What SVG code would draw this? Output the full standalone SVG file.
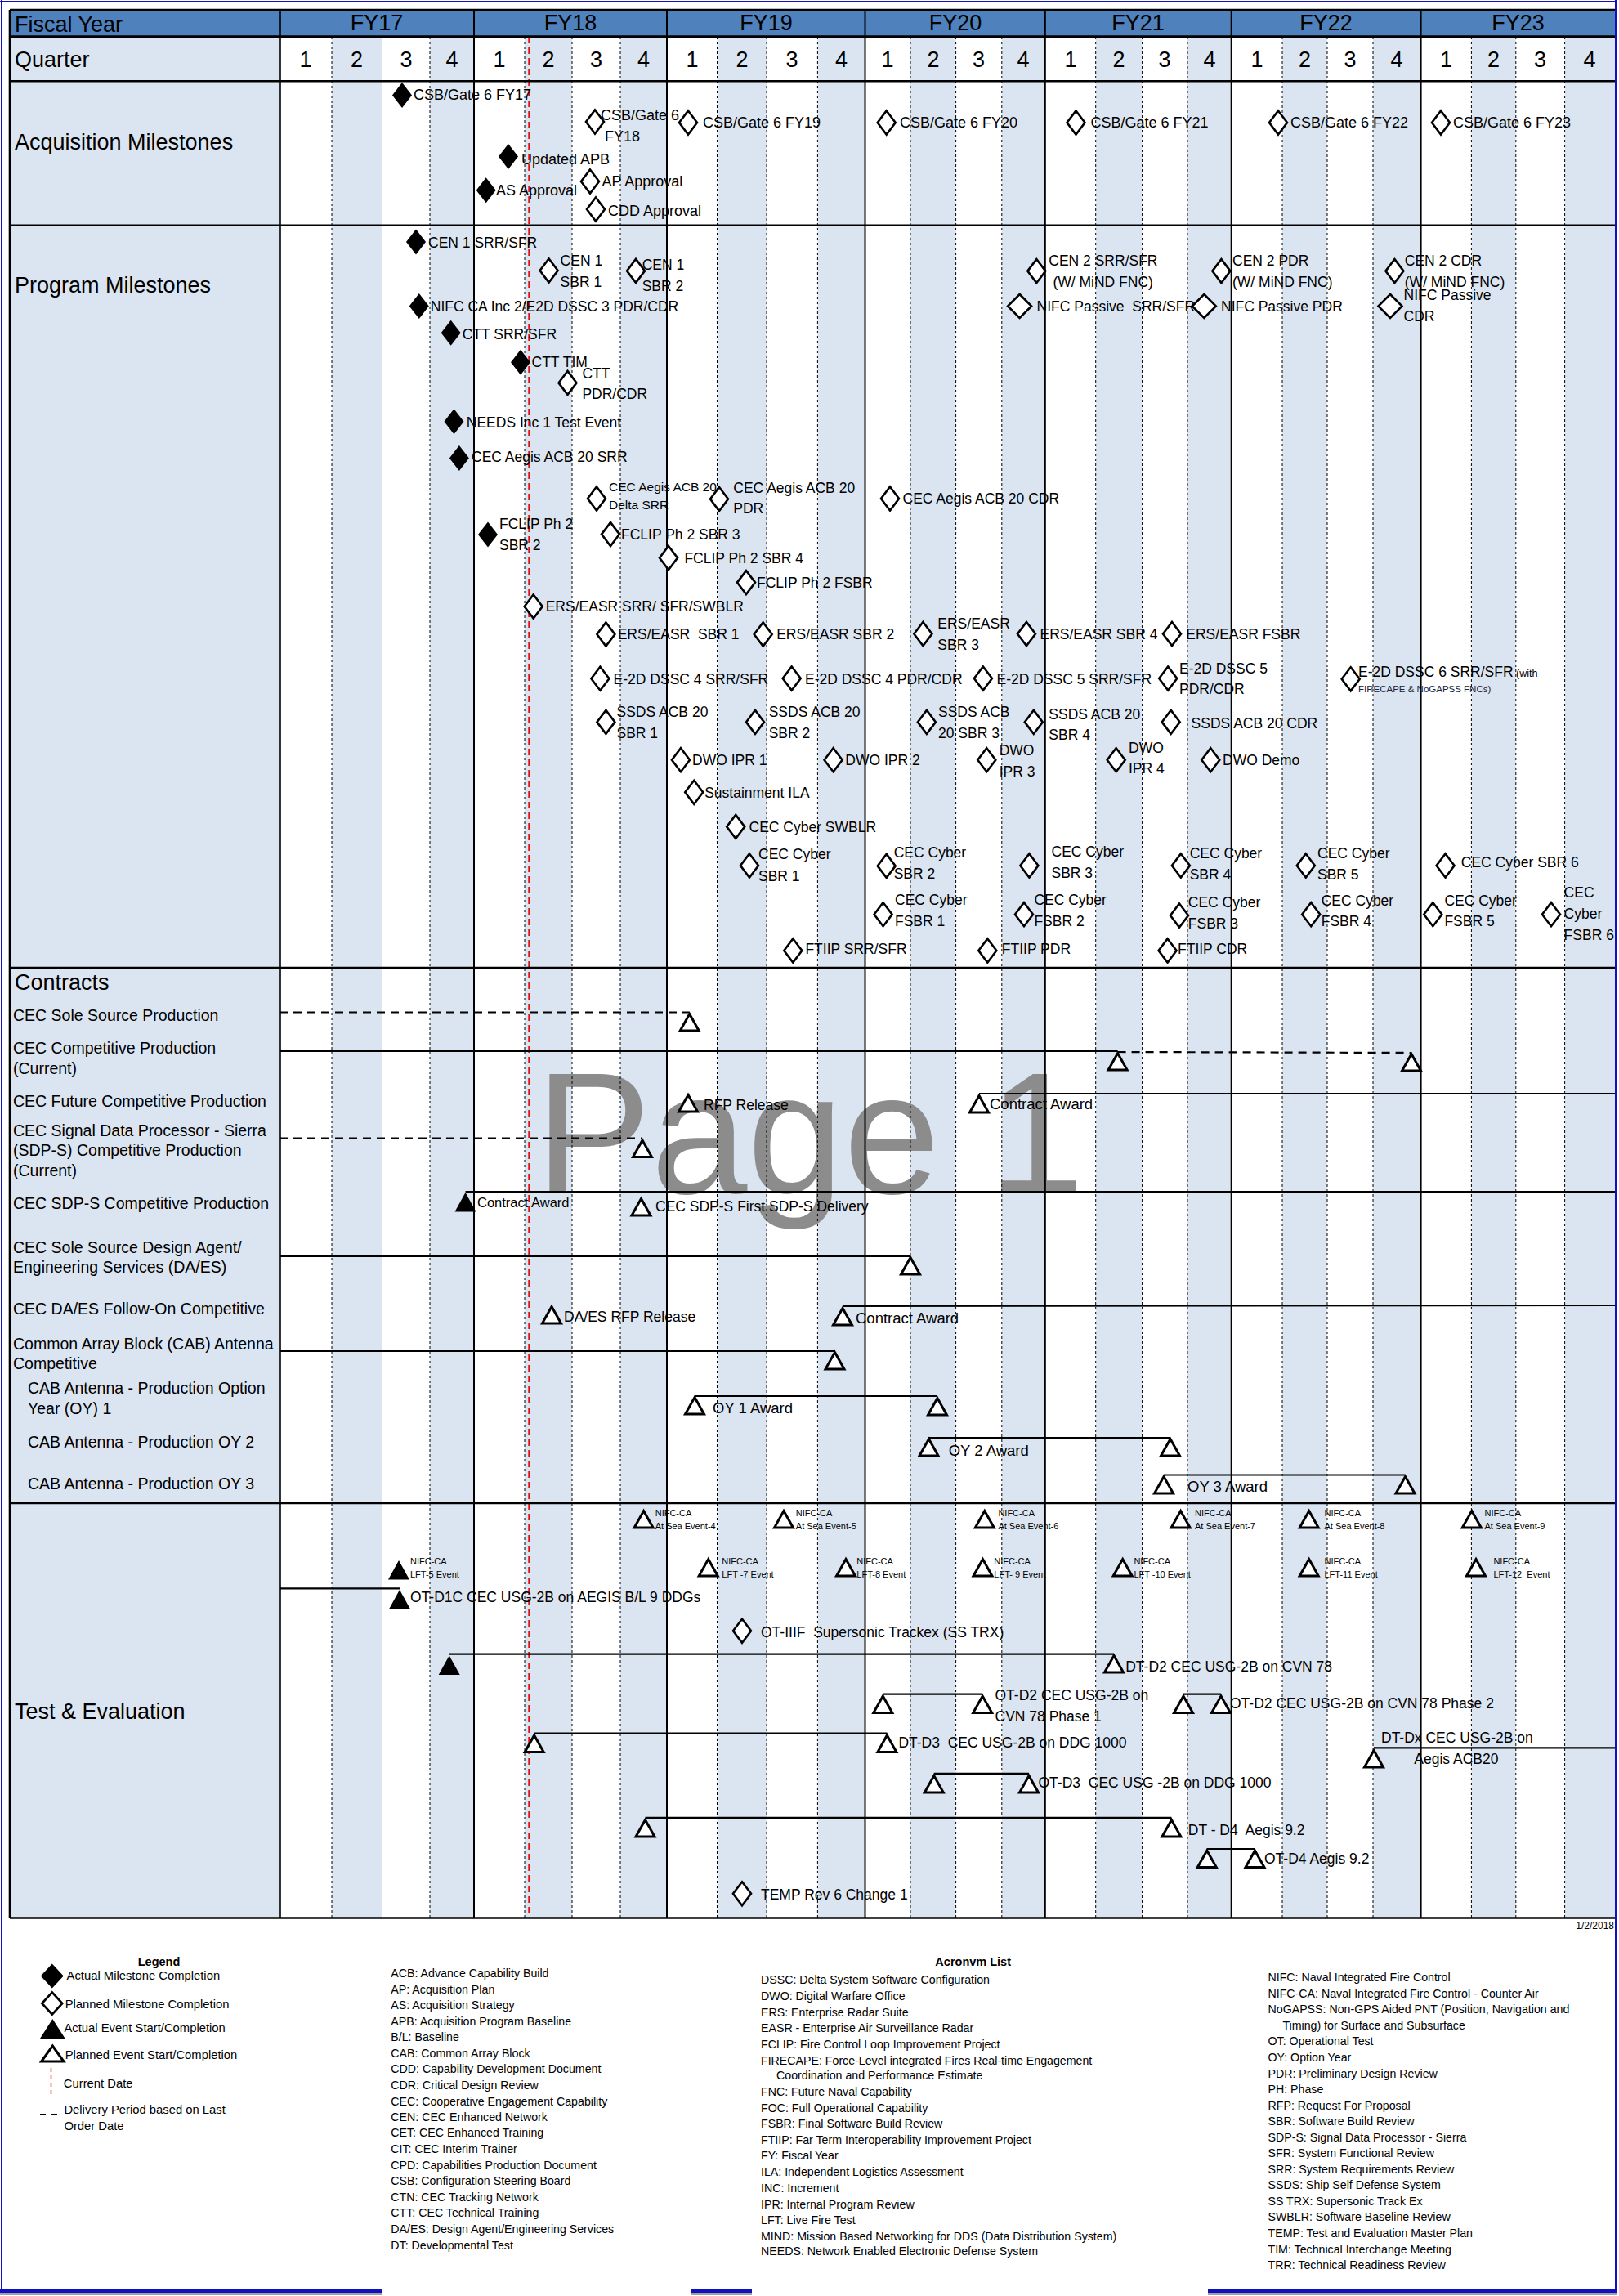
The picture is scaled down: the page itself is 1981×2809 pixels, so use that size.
<svg xmlns="http://www.w3.org/2000/svg" xmlns:xlink="http://www.w3.org/1999/xlink" width="1981" height="2809" viewBox="0 0 1981 2809">
<style>
text{font-family:"Liberation Sans",Arial,sans-serif;fill:#000}
.h{font-size:27px}
.a{font-size:18px}
.m{font-size:17.5px}
.ms{font-size:15.5px}
.c{font-size:19.5px}
.t{font-size:17.5px}
.s{font-size:11px}
.g{font-size:14.2px}
.lg{font-size:14.8px}
.b{font-size:14.5px;font-weight:bold}
.q{font-size:27px;text-anchor:middle}
.bar{stroke:#000;stroke-width:2.2;fill:none}
.dsh{stroke:#000;stroke-width:2.2;fill:none;stroke-dasharray:10,7}
.ql{stroke:#000;stroke-width:1;stroke-dasharray:3,3}
.fy{stroke:#000;stroke-width:2}
.sec{stroke:#000;stroke-width:2.6}
.sh{fill:#dbe5f1}
</style>
<defs>
<path id="mA" d="M0,-15.5 L12,0 L0,15.5 L-12,0 Z" fill="#000"/>
<path id="mP" d="M0,-14.5 L11,0 L0,14.5 L-11,0 Z" fill="#fff" stroke="#000" stroke-width="2.6"/>
<path id="mW" d="M0,-14.5 L14.5,0 L0,14.5 L-14.5,0 Z" fill="#fff" stroke="#000" stroke-width="2.6"/>
<path id="tP" d="M0,1.5 L11.5,22 L-11.5,22 Z" fill="#fff" stroke="#000" stroke-width="3"/>
<path id="tA" d="M0,0 L13,23.5 L-13,23.5 Z" fill="#000"/>
</defs>
<rect width="1981" height="2809" fill="#fff"/>
<g id="grid">
<rect x="12" y="12" width="1964" height="33" fill="#4f81bd"/>
<rect x="12" y="45" width="330.5" height="2301.5" fill="#dbe5f1"/>
<rect class="sh" x="406" y="45" width="61.5" height="2301.5"/>
<rect class="sh" x="526" y="45" width="54" height="2301.5"/>
<rect class="sh" x="642" y="45" width="58" height="2301.5"/>
<rect class="sh" x="759" y="45" width="57" height="2301.5"/>
<rect class="sh" x="877.5" y="45" width="60.5" height="2301.5"/>
<rect class="sh" x="1000.4" y="45" width="58.1" height="2301.5"/>
<rect class="sh" x="1114" y="45" width="55.6" height="2301.5"/>
<rect class="sh" x="1225.8" y="45" width="53" height="2301.5"/>
<rect class="sh" x="1340.7" y="45" width="56.9" height="2301.5"/>
<rect class="sh" x="1453" y="45" width="53.7" height="2301.5"/>
<rect class="sh" x="1569" y="45" width="55" height="2301.5"/>
<rect class="sh" x="1680" y="45" width="58.6" height="2301.5"/>
<rect class="sh" x="1800.4" y="45" width="54.4" height="2301.5"/>
<rect class="sh" x="1914.6" y="45" width="61.4" height="2301.5"/>
<text x="655" y="1460" style="font-size:212px;fill:#8c8c8c">Page 1</text>
<g class="ql">
<line x1="406" y1="45" x2="406" y2="2346"/><line x1="467.5" y1="45" x2="467.5" y2="2346"/><line x1="526" y1="45" x2="526" y2="2346"/>
<line x1="642" y1="45" x2="642" y2="2346"/><line x1="700" y1="45" x2="700" y2="2346"/><line x1="759" y1="45" x2="759" y2="2346"/>
<line x1="877.5" y1="45" x2="877.5" y2="2346"/><line x1="938" y1="45" x2="938" y2="2346"/><line x1="1000.4" y1="45" x2="1000.4" y2="2346"/>
<line x1="1114" y1="45" x2="1114" y2="2346"/><line x1="1169.6" y1="45" x2="1169.6" y2="2346"/><line x1="1225.8" y1="45" x2="1225.8" y2="2346"/>
<line x1="1340.7" y1="45" x2="1340.7" y2="2346"/><line x1="1397.6" y1="45" x2="1397.6" y2="2346"/><line x1="1453" y1="45" x2="1453" y2="2346"/>
<line x1="1569" y1="45" x2="1569" y2="2346"/><line x1="1624" y1="45" x2="1624" y2="2346"/><line x1="1680" y1="45" x2="1680" y2="2346"/>
<line x1="1800.4" y1="45" x2="1800.4" y2="2346"/><line x1="1854.8" y1="45" x2="1854.8" y2="2346"/><line x1="1914.6" y1="45" x2="1914.6" y2="2346"/>
</g>
<line x1="647.3" y1="45" x2="647.3" y2="2346" stroke="#e01010" stroke-width="2" stroke-dasharray="8,5"/>
<g class="fy">
<line x1="580" y1="12" x2="580" y2="2346"/><line x1="816" y1="12" x2="816" y2="2346"/><line x1="1058.5" y1="12" x2="1058.5" y2="2346"/>
<line x1="1278.8" y1="12" x2="1278.8" y2="2346"/><line x1="1506.7" y1="12" x2="1506.7" y2="2346"/><line x1="1738.6" y1="12" x2="1738.6" y2="2346"/>
</g>
<g class="sec">
<line x1="342.5" y1="12" x2="342.5" y2="2346.5"/>
<line x1="12" y1="12" x2="12" y2="2346.5"/>
<line x1="12" y1="12" x2="1976" y2="12"/>
<line x1="12" y1="44.6" x2="1976" y2="44.6"/>
<line x1="12" y1="99.3" x2="1976" y2="99.3"/>
<line x1="12" y1="275.7" x2="1976" y2="275.7"/>
<line x1="12" y1="1184" x2="1976" y2="1184"/>
<line x1="12" y1="1839" x2="1976" y2="1839"/>
<line x1="12" y1="2346.5" x2="1976" y2="2346.5"/>
</g>
</g>
<g id="header">
<text class="h" x="18" y="39">Fiscal Year</text>
<text class="q" x="461" y="37">FY17</text><text class="q" x="698" y="37">FY18</text><text class="q" x="937.5" y="37">FY19</text>
<text class="q" x="1169" y="37">FY20</text><text class="q" x="1392.5" y="37">FY21</text><text class="q" x="1622.5" y="37">FY22</text><text class="q" x="1857.5" y="37">FY23</text>
<text class="h" x="18" y="82">Quarter</text>
<text class="q" x="374" y="82">1</text><text class="q" x="436.5" y="82">2</text><text class="q" x="497" y="82">3</text><text class="q" x="553" y="82">4</text>
<text class="q" x="611" y="82">1</text><text class="q" x="671" y="82">2</text><text class="q" x="729.5" y="82">3</text><text class="q" x="787.5" y="82">4</text>
<text class="q" x="847" y="82">1</text><text class="q" x="908" y="82">2</text><text class="q" x="969" y="82">3</text><text class="q" x="1029.5" y="82">4</text>
<text class="q" x="1086" y="82">1</text><text class="q" x="1142" y="82">2</text><text class="q" x="1197.5" y="82">3</text><text class="q" x="1252" y="82">4</text>
<text class="q" x="1310" y="82">1</text><text class="q" x="1369" y="82">2</text><text class="q" x="1425" y="82">3</text><text class="q" x="1480" y="82">4</text>
<text class="q" x="1538" y="82">1</text><text class="q" x="1596.5" y="82">2</text><text class="q" x="1652" y="82">3</text><text class="q" x="1709" y="82">4</text>
<text class="q" x="1769.5" y="82">1</text><text class="q" x="1827.5" y="82">2</text><text class="q" x="1884.5" y="82">3</text><text class="q" x="1945" y="82">4</text>
</g>
<g id="row-labels">
<text class="h" x="18" y="183">Acquisition Milestones</text>
<text class="h" x="18" y="358">Program Milestones</text>
<text class="h" x="18" y="1211">Contracts</text>
<text class="c" x="16" y="1249">CEC Sole Source Production</text>
<text class="c" x="16" y="1289">CEC Competitive Production</text>
<text class="c" x="16" y="1314">(Current)</text>
<text class="c" x="16" y="1354">CEC Future Competitive Production</text>
<text class="c" x="16" y="1389.5">CEC Signal Data Processor - Sierra</text>
<text class="c" x="16" y="1414">(SDP-S) Competitive Production</text>
<text class="c" x="16" y="1439">(Current)</text>
<text class="c" x="16" y="1479">CEC SDP-S Competitive Production</text>
<text class="c" x="16" y="1532.5">CEC Sole Source Design Agent/</text>
<text class="c" x="16" y="1557">Engineering Services (DA/ES)</text>
<text class="c" x="16" y="1608">CEC DA/ES Follow-On Competitive</text>
<text class="c" x="16" y="1650.5">Common Array Block (CAB) Antenna</text>
<text class="c" x="16" y="1675">Competitive</text>
<text class="c" x="34" y="1705">CAB Antenna - Production Option</text>
<text class="c" x="34" y="1730">Year (OY) 1</text>
<text class="c" x="34" y="1770.6">CAB Antenna - Production OY 2</text>
<text class="c" x="34" y="1822">CAB Antenna - Production OY 3</text>
<text class="h" x="18" y="2103">Test &amp; Evaluation</text>
</g>
<g id="connectors">
<line class="dsh" x1="342" y1="1238.5" x2="843.7" y2="1238.5"/>
<line class="bar" x1="342" y1="1286" x2="1367.6" y2="1286"/>
<line class="dsh" x1="1367.6" y1="1287" x2="1727" y2="1288"/>
<line class="bar" x1="1198" y1="1338" x2="1976" y2="1338"/>
<line class="dsh" x1="342" y1="1392.5" x2="786" y2="1392.5"/>
<line class="bar" x1="569.5" y1="1458" x2="1976" y2="1458"/>
<line class="bar" x1="342" y1="1537" x2="1114" y2="1537"/>
<line class="bar" x1="1031" y1="1598" x2="1976" y2="1597"/>
<line class="bar" x1="342" y1="1653" x2="1021.5" y2="1653"/>
<line class="bar" x1="850" y1="1708" x2="1147" y2="1708"/>
<line class="bar" x1="1136.5" y1="1759" x2="1432" y2="1759"/>
<line class="bar" x1="1424" y1="1804.5" x2="1719.5" y2="1804.5"/>
<line class="bar" x1="342" y1="1943.3" x2="489" y2="1943.3"/>
<line class="bar" x1="549.7" y1="2023.7" x2="1363" y2="2023.7"/>
<line class="bar" x1="1080.3" y1="2072.7" x2="1202.2" y2="2072.7"/>
<line class="bar" x1="1448" y1="2072.7" x2="1494" y2="2072.7"/>
<line class="bar" x1="653.7" y1="2120.7" x2="1085.4" y2="2120.7"/>
<line class="bar" x1="1681" y1="2138.3" x2="1976" y2="2138.3"/>
<line class="bar" x1="1142.8" y1="2169.8" x2="1259" y2="2169.8"/>
<line class="bar" x1="789.5" y1="2223.8" x2="1433.4" y2="2223.8"/>
<line class="bar" x1="1476.8" y1="2262" x2="1535.5" y2="2262"/>
</g>
<g id="acquisition">
<g id="a1"><use href="#mA" x="492" y="116.5"/><text class="a" x="506" y="121.5">CSB/Gate 6 FY17</text></g>
<g id="a2"><use href="#mP" x="728" y="149"/><text class="a" x="735" y="147">CSB/Gate 6</text><text class="a" x="740" y="173">FY18</text></g>
<g id="a3"><use href="#mP" x="842" y="150"/><text class="a" x="860" y="156">CSB/Gate 6 FY19</text></g>
<g id="a4"><use href="#mP" x="1084.7" y="150"/><text class="a" x="1101" y="156">CSB/Gate 6 FY20</text></g>
<g id="a5"><use href="#mP" x="1316.5" y="150"/><text class="a" x="1334.4" y="156">CSB/Gate 6 FY21</text></g>
<g id="a6"><use href="#mP" x="1564" y="150"/><text class="a" x="1579" y="156">CSB/Gate 6 FY22</text></g>
<g id="a7"><use href="#mP" x="1763" y="150"/><text class="a" x="1778" y="156">CSB/Gate 6 FY23</text></g>
<g id="a8"><use href="#mA" x="622" y="191.4"/><text class="a" x="638" y="200.7">Updated APB</text></g>
<g id="a9"><use href="#mA" x="594.7" y="232.7"/><text class="a" x="607" y="238.6">AS Approval</text></g>
<g id="a10"><use href="#mP" x="722" y="222"/><text class="a" x="736.6" y="227.5">AP Approval</text></g>
<g id="a11"><use href="#mP" x="729" y="256"/><text class="a" x="744" y="263.5">CDD Approval</text></g>
</g>
<g id="program">
<g id="p1"><use href="#mA" x="509" y="296"/><text class="m" x="524" y="303">CEN 1 SRR/SFR</text></g>
<g id="p2"><use href="#mP" x="671.6" y="331"/><text class="m" x="685.6" y="325">CEN 1</text><text class="m" x="685.6" y="350.7">SBR 1</text></g>
<g id="p3"><use href="#mP" x="778" y="331.4"/><text class="m" x="785.7" y="330">CEN 1</text><text class="m" x="785.7" y="356.4">SBR 2</text></g>
<g id="p4"><use href="#mA" x="512.8" y="374.5"/><text class="m" x="526.8" y="381.4">NIFC CA Inc 2/E2D DSSC 3 PDR/CDR</text></g>
<g id="p5"><use href="#mA" x="551.7" y="407.3"/><text class="m" x="565.7" y="415">CTT SRR/SFR</text></g>
<g id="p6"><use href="#mA" x="637" y="443.2"/><text class="m" x="650.5" y="449.3">CTT TIM</text></g>
<g id="p7"><use href="#mP" x="694.5" y="468.4"/><text class="m" x="712.4" y="462.5">CTT</text><text class="m" x="712.4" y="488.2">PDR/CDR</text></g>
<g id="p8"><use href="#mA" x="555.5" y="515.7"/><text class="m" x="570.8" y="522.5">NEEDS Inc 1 Test Event</text></g>
<g id="p9"><use href="#mA" x="561.9" y="560.6"/><text class="m" x="577" y="565.3">CEC Aegis ACB 20 SRR</text></g>
<g id="p10"><use href="#mP" x="730" y="610"/><text class="ms" x="745" y="601">CEC Aegis ACB 20</text><text class="ms" x="745" y="623.3">Delta SRR</text></g>
<g id="p11"><use href="#mP" x="880" y="610.5"/><text class="m" x="897.3" y="603">CEC Aegis ACB 20</text><text class="m" x="897.3" y="628.4">PDR</text></g>
<g id="p12"><use href="#mP" x="1089" y="610"/><text class="m" x="1104.5" y="615.8">CEC Aegis ACB 20 CDR</text></g>
<g id="p13"><use href="#mA" x="597" y="654"/><text class="m" x="611" y="647.3">FCLIP Ph 2</text><text class="m" x="611" y="672.6">SBR 2</text></g>
<g id="p14"><use href="#mP" x="747" y="653.6"/><text class="m" x="760" y="660">FCLIP Ph 2 SBR 3</text></g>
<g id="p15"><use href="#mP" x="818" y="682.5"/><text class="m" x="837.4" y="689.4">FCLIP Ph 2 SBR 4</text></g>
<g id="p16"><use href="#mP" x="913" y="712.6"/><text class="m" x="926" y="718.9">FCLIP Ph 2 FSBR</text></g>
<g id="p17"><use href="#mP" x="652.7" y="742"/><text class="m" x="667.7" y="747.5">ERS/EASR SRR/ SFR/SWBLR</text></g>
<g id="p18"><use href="#mP" x="741.4" y="776"/><text class="m" x="755.7" y="782" xml:space="preserve">ERS/EASR  SBR 1</text></g>
<g id="p19"><use href="#mP" x="933.7" y="776"/><text class="m" x="950.2" y="782">ERS/EASR SBR 2</text></g>
<g id="p20"><use href="#mP" x="1129.4" y="775.5"/><text class="m" x="1147.3" y="768.5">ERS/EASR</text><text class="m" x="1147.3" y="794.6">SBR 3</text></g>
<g id="p21"><use href="#mP" x="1256" y="775.5"/><text class="m" x="1272.5" y="782">ERS/EASR SBR 4</text></g>
<g id="p22"><use href="#mP" x="1434" y="775.5"/><text class="m" x="1451.3" y="782">ERS/EASR FSBR</text></g>
<g id="p23"><use href="#mP" x="734.4" y="830.2"/><text class="m" x="750.6" y="836.7">E-2D DSSC 4 SRR/SFR</text></g>
<g id="p24"><use href="#mP" x="968.7" y="830"/><text class="m" x="985" y="836.7">E-2D DSSC 4 PDR/CDR</text></g>
<g id="p25"><use href="#mP" x="1202.9" y="830"/><text class="m" x="1219.5" y="836.7">E-2D DSSC 5 SRR/SFR</text></g>
<g id="p26"><use href="#mP" x="1429.2" y="830"/><text class="m" x="1443" y="824">E-2D DSSC 5</text><text class="m" x="1443" y="849.3">PDR/CDR</text></g>
<g id="p27"><use href="#mP" x="1652.7" y="830.8"/><text class="m" x="1662" y="827.5">E-2D DSSC 6 SRR/SFR<tspan style="font-size:12.5px"> (with</tspan></text><text x="1662" y="847" style="font-size:11.5px;fill:#15233d">FIRECAPE &amp; NoGAPSS FNCs)</text></g>
<g id="p28"><use href="#mP" x="741.4" y="883.4"/><text class="m" x="754.5" y="876.7">SSDS ACB 20</text><text class="m" x="754.5" y="902.8">SBR 1</text></g>
<g id="p29"><use href="#mP" x="924" y="883.4"/><text class="m" x="940.7" y="876.7">SSDS ACB 20</text><text class="m" x="940.7" y="902.8">SBR 2</text></g>
<g id="p30"><use href="#mP" x="1133.9" y="883.4"/><text class="m" x="1148" y="876.7">SSDS ACB</text><text class="m" x="1148" y="902.8">20 SBR 3</text></g>
<g id="p31"><use href="#mP" x="1264.8" y="883.4"/><text class="m" x="1283.3" y="880">SSDS ACB 20</text><text class="m" x="1283.3" y="905.3">SBR 4</text></g>
<g id="p32"><use href="#mP" x="1432.7" y="883.4"/><text class="m" x="1457.6" y="891.4">SSDS ACB 20 CDR</text></g>
<g id="p33"><use href="#mP" x="833" y="929.7"/><text class="m" x="847" y="935.6">DWO IPR 1</text></g>
<g id="p34"><use href="#mP" x="1019.6" y="929.7"/><text class="m" x="1034.3" y="935.6">DWO IPR 2</text></g>
<g id="p35"><use href="#mP" x="1207.3" y="929.7"/><text class="m" x="1222.7" y="923.8">DWO</text><text class="m" x="1222.7" y="950.4">IPR 3</text></g>
<g id="p36"><use href="#mP" x="1365.7" y="929.7"/><text class="m" x="1381" y="921">DWO</text><text class="m" x="1381" y="946">IPR 4</text></g>
<g id="p37"><use href="#mP" x="1481.3" y="929.7"/><text class="m" x="1496" y="935.6">DWO Demo</text></g>
<g id="p38"><use href="#mP" x="849.2" y="969.3"/><text class="m" x="862.2" y="975.6">Sustainment ILA</text></g>
<g id="p39"><use href="#mP" x="900.2" y="1011.4"/><text class="m" x="916.5" y="1017.7">CEC Cyber SWBLR</text></g>
<g id="p40"><use href="#mP" x="917" y="1059"/><text class="m" x="928" y="1051.4">CEC Cyber</text><text class="m" x="928" y="1077.5">SBR 1</text></g>
<g id="p41"><use href="#mP" x="1084.7" y="1059.4"/><text class="m" x="1093.7" y="1049.3">CEC Cyber</text><text class="m" x="1093.7" y="1075.4">SBR 2</text></g>
<g id="p42"><use href="#mP" x="1259.4" y="1059"/><text class="m" x="1286.5" y="1048">CEC Cyber</text><text class="m" x="1286.5" y="1073.7">SBR 3</text></g>
<g id="p43"><use href="#mP" x="1444.9" y="1059"/><text class="m" x="1455.7" y="1050">CEC Cyber</text><text class="m" x="1455.7" y="1075.8">SBR 4</text></g>
<g id="p44"><use href="#mP" x="1597.8" y="1059"/><text class="m" x="1612" y="1050">CEC Cyber</text><text class="m" x="1612" y="1075.8">SBR 5</text></g>
<g id="p45"><use href="#mP" x="1768.6" y="1059"/><text class="m" x="1787.8" y="1060.6">CEC Cyber SBR 6</text></g>
<g id="p46"><use href="#mP" x="1080.6" y="1118.7"/><text class="m" x="1095" y="1107">CEC Cyber</text><text class="m" x="1095" y="1132.6">FSBR 1</text></g>
<g id="p47"><use href="#mP" x="1253" y="1118.7"/><text class="m" x="1265.4" y="1107">CEC Cyber</text><text class="m" x="1265.4" y="1132.6">FSBR 2</text></g>
<g id="p48"><use href="#mP" x="1443" y="1120"/><text class="m" x="1453.8" y="1110.3">CEC Cyber</text><text class="m" x="1453.8" y="1135.5">FSBR 3</text></g>
<g id="p49"><use href="#mP" x="1604.2" y="1118.7"/><text class="m" x="1616.7" y="1108">CEC Cyber</text><text class="m" x="1616.7" y="1133.4">FSBR 4</text></g>
<g id="p50"><use href="#mP" x="1753.3" y="1118.7"/><text class="m" x="1767.4" y="1108">CEC Cyber</text><text class="m" x="1767.4" y="1133.4">FSBR 5</text></g>
<g id="p51"><use href="#mP" x="1898" y="1118.7"/><text class="m" x="1913.6" y="1097.7">CEC</text><text class="m" x="1913.6" y="1123.7">Cyber</text><text class="m" x="1913.6" y="1150.3">FSBR 6</text></g>
<g id="p52"><use href="#mP" x="970.3" y="1163"/><text class="m" x="985.4" y="1167">FTIIP SRR/SFR</text></g>
<g id="p53"><use href="#mP" x="1208.3" y="1163"/><text class="m" x="1225.8" y="1167">FTIIP PDR</text></g>
<g id="p54"><use href="#mP" x="1428.6" y="1163"/><text class="m" x="1441" y="1167">FTIIP CDR</text></g>
<g id="p55"><use href="#mP" x="1268.3" y="331.6"/><text class="m" x="1283.3" y="325">CEN 2 SRR/SFR</text><text class="m" x="1288.4" y="350.7">(W/ MiND FNC)</text></g>
<g id="p56"><use href="#mP" x="1494.4" y="331.6"/><text class="m" x="1508" y="325">CEN 2 PDR</text><text class="m" x="1508" y="350.7">(W/ MiND FNC)</text></g>
<g id="p57"><use href="#mP" x="1706.4" y="331.6"/><text class="m" x="1718.8" y="325">CEN 2 CDR</text><text class="m" x="1718.8" y="350.7">(W/ MiND FNC)</text></g>
<g id="p58"><use href="#mW" x="1247.6" y="374.5"/><text class="m" x="1268.6" y="381.4" xml:space="preserve">NIFC Passive  SRR/SFR</text></g>
<g id="p59"><use href="#mW" x="1473.3" y="374.5"/><text class="m" x="1494" y="381.4">NIFC Passive PDR</text></g>
<g id="p60"><use href="#mW" x="1701" y="374.5"/><text class="m" x="1717.6" y="367">NIFC Passive</text><text class="m" x="1717.6" y="392.9">CDR</text></g>
</g>
<g id="contracts">
<g id="c1"><use href="#tP" x="843.7" y="1239"/></g>
<g id="c2"><use href="#tP" x="1367.6" y="1287"/><use href="#tP" x="1727" y="1288"/></g>
<g id="c3"><use href="#tP" x="842" y="1338"/><text class="m" x="861" y="1358">RFP Release</text><use href="#tP" x="1198" y="1339"/><text x="1211" y="1357" style="font-size:18.5px">Contract Award</text></g>
<g id="c4"><use href="#tP" x="786" y="1393.5"/></g>
<g id="c5"><use href="#tA" x="569.5" y="1459"/><text x="584" y="1477" style="font-size:16.5px">Contract Award</text><use href="#tP" x="784.5" y="1465"/><text class="m" x="802" y="1482">CEC SDP-S First SDP-S Delivery</text></g>
<g id="c6"><use href="#tP" x="1114" y="1537"/></g>
<g id="c7"><use href="#tP" x="675" y="1597"/><text class="m" x="690" y="1617">DA/ES RFP Release</text><use href="#tP" x="1031" y="1599"/><text x="1047" y="1619" style="font-size:18.5px">Contract Award</text></g>
<g id="c8"><use href="#tP" x="1021.5" y="1653"/></g>
<g id="c9"><use href="#tP" x="850" y="1708"/><use href="#tP" x="1147" y="1709"/><text x="872" y="1728.5" style="font-size:18.5px">OY 1 Award</text></g>
<g id="c10"><use href="#tP" x="1136.5" y="1759"/><use href="#tP" x="1432" y="1759"/><text x="1160.7" y="1780.6" style="font-size:18.5px">OY 2 Award</text></g>
<g id="c11"><use href="#tP" x="1424" y="1805"/><use href="#tP" x="1719.5" y="1805"/><text x="1453" y="1825" style="font-size:18.5px">OY 3 Award</text></g>
</g>
<g id="test-evaluation">
<g id="e1"><use href="#tP" x="787.6" y="1847"/><text class="s" x="801.7" y="1855.4">NIFC-CA</text><text class="s" x="801.7" y="1871.2">At Sea Event-4</text></g>
<g id="e2"><use href="#tP" x="959" y="1847"/><text class="s" x="973.8" y="1855.4">NIFC-CA</text><text class="s" x="973.8" y="1871.2">At Sea Event-5</text></g>
<g id="e3"><use href="#tP" x="1204.8" y="1847"/><text class="s" x="1221.4" y="1855.4">NIFC-CA</text><text class="s" x="1221.4" y="1871.2">At Sea Event-6</text></g>
<g id="e4"><use href="#tP" x="1444.6" y="1847"/><text class="s" x="1462" y="1855.4">NIFC-CA</text><text class="s" x="1462" y="1871.2">At Sea Event-7</text></g>
<g id="e5"><use href="#tP" x="1601.7" y="1847"/><text class="s" x="1620.5" y="1855.4">NIFC-CA</text><text class="s" x="1620.5" y="1871.2">At Sea Event-8</text></g>
<g id="e6"><use href="#tP" x="1800.8" y="1847"/><text class="s" x="1816.5" y="1855.4">NIFC-CA</text><text class="s" x="1816.5" y="1871.2">At Sea Event-9</text></g>
<g id="e7"><use href="#tA" x="488" y="1909"/><text class="s" x="502" y="1913.8">NIFC-CA</text><text class="s" x="502" y="1929.7">LFT-5 Event</text></g>
<g id="e8"><use href="#tP" x="866.7" y="1906"/><text class="s" x="883.3" y="1913.8">NIFC-CA</text><text class="s" x="883.3" y="1929.7">LFT -7 Event</text></g>
<g id="e9"><use href="#tP" x="1035" y="1906"/><text class="s" x="1048.3" y="1913.8">NIFC-CA</text><text class="s" x="1048.3" y="1929.7">LFT-8 Event</text></g>
<g id="e10"><use href="#tP" x="1202.5" y="1906"/><text class="s" x="1216.3" y="1913.8">NIFC-CA</text><text class="s" x="1216.3" y="1929.7">LFT- 9 Event</text></g>
<g id="e11"><use href="#tP" x="1373.7" y="1906"/><text class="s" x="1387.4" y="1913.8">NIFC-CA</text><text class="s" x="1387.4" y="1929.7">LFT -10 Event</text></g>
<g id="e12"><use href="#tP" x="1601.7" y="1906"/><text class="s" x="1620.5" y="1913.8">NIFC-CA</text><text class="s" x="1620.5" y="1929.7">LFT-11 Event</text></g>
<g id="e13"><use href="#tP" x="1806" y="1906"/><text class="s" x="1827.4" y="1913.8">NIFC-CA</text><text class="s" x="1827.4" y="1929.7" xml:space="preserve">LFT-12  Event</text></g>
<g id="e14"><use href="#tA" x="489" y="1945"/><text class="t" x="502" y="1960">OT-D1C CEC USG-2B on AEGIS B/L 9 DDGs</text></g>
<g id="e15"><use href="#mP" x="908" y="1995.3"/><text class="t" x="931" y="2003" xml:space="preserve">OT-IIIF  Supersonic Trackex (SS TRX)</text></g>
<g id="e16"><use href="#tA" x="549.7" y="2025.4"/><use href="#tP" x="1363" y="2024"/><text class="t" x="1377.2" y="2044.7">DT-D2 CEC USG-2B on CVN 78</text></g>
<g id="e17"><use href="#tP" x="1080.3" y="2073.5"/><use href="#tP" x="1202.2" y="2073.5"/><text class="t" x="1217.5" y="2080">OT-D2 CEC USG-2B on</text><text class="t" x="1217.5" y="2105.5">CVN 78 Phase 1</text></g>
<g id="e18"><use href="#tP" x="1448" y="2073.5"/><use href="#tP" x="1494" y="2073.5"/><text class="t" x="1505" y="2090.3">OT-D2 CEC USG-2B on CVN 78 Phase 2</text></g>
<g id="e19"><use href="#tP" x="653.7" y="2121.4"/><use href="#tP" x="1085.4" y="2121.4"/><text class="t" x="1099.4" y="2137.6" xml:space="preserve">DT-D3  CEC USG-2B on DDG 1000</text></g>
<g id="e20"><use href="#tP" x="1681" y="2140"/><text class="t" x="1690" y="2132">DT-Dx CEC USG-2B on</text><text class="t" x="1730.3" y="2158">Aegis ACB20</text></g>
<g id="e21"><use href="#tP" x="1142.8" y="2171"/><use href="#tP" x="1259" y="2171"/><text class="t" x="1270.5" y="2186.7" xml:space="preserve">OT-D3  CEC USG -2B on DDG 1000</text></g>
<g id="e22"><use href="#tP" x="789.5" y="2225"/><use href="#tP" x="1433.4" y="2225"/><text class="t" x="1453.8" y="2245" xml:space="preserve">DT - D4  Aegis 9.2</text></g>
<g id="e23"><use href="#tP" x="1476.8" y="2262.5"/><use href="#tP" x="1535.5" y="2262.5"/><text class="t" x="1547" y="2279.6">OT-D4 Aegis 9.2</text></g>
<g id="e24"><use href="#mP" x="908" y="2316.8"/><text class="t" x="931" y="2324">TEMP Rev 6 Change 1</text></g>
</g>
<text x="1975" y="2360" text-anchor="end" style="font-size:12px">1/2/2018</text>
<g id="legend">
<text class="b" x="194.5" y="2405" text-anchor="middle">Legend</text>
<path d="M63.8,2402.5 L77.8,2417.5 L63.8,2432.5 L49.8,2417.5 Z" fill="#000"/>
<text class="lg" x="81.6" y="2421.7">Actual Milestone Completion</text>
<path d="M63.8,2437.5 L76.3,2451 L63.8,2464.5 L51.3,2451 Z" fill="#fff" stroke="#000" stroke-width="2.6"/>
<text class="lg" x="79.7" y="2456.7">Planned Milestone Completion</text>
<path d="M64.3,2470 L79.7,2494 L49,2494 Z" fill="#000"/>
<text class="lg" x="78.4" y="2485.7">Actual Event Start/Completion</text>
<path d="M64.3,2503 L78,2522 L50.6,2522 Z" fill="#fff" stroke="#000" stroke-width="3"/>
<text class="lg" x="79.7" y="2519">Planned Event Start/Completion</text>
<line x1="62.5" y1="2530" x2="62.5" y2="2565" stroke="#e01010" stroke-width="1.5" stroke-dasharray="5,4"/>
<text class="lg" x="77.8" y="2554">Current Date</text>
<line x1="49" y1="2587" x2="56" y2="2587" stroke="#000" stroke-width="2"/>
<line x1="62" y1="2587" x2="70" y2="2587" stroke="#000" stroke-width="2"/>
<text class="lg" x="78.4" y="2586">Delivery Period based on Last</text>
<text class="lg" x="78.4" y="2606">Order Date</text>
</g>
<g id="acronyms" xml:space="preserve">
<text class="b" x="1190.7" y="2405" text-anchor="middle">Acronvm List</text>
<text class="g" x="478.3" y="2419">ACB:  Advance Capability Build</text>
<text class="g" x="478.3" y="2439">AP: Acquisition Plan</text>
<text class="g" x="478.3" y="2458.3">AS: Acquisition Strategy</text>
<text class="g" x="478.3" y="2477.7">APB:  Acquisition Program Baseline</text>
<text class="g" x="478.3" y="2496.7">B/L:  Baseline</text>
<text class="g" x="478.3" y="2516.7">CAB:  Common  Array  Block</text>
<text class="g" x="478.3" y="2536">CDD:  Capability Development Document</text>
<text class="g" x="478.3" y="2556">CDR:  Critical Design Review</text>
<text class="g" x="478.3" y="2575.7">CEC:  Cooperative Engagement Capability</text>
<text class="g" x="478.3" y="2595">CEN:  CEC Enhanced Network</text>
<text class="g" x="478.3" y="2614.3">CET: CEC Enhanced Training</text>
<text class="g" x="478.3" y="2634">CIT:  CEC Interim Trainer</text>
<text class="g" x="478.3" y="2654">CPD:  Capabilities Production Document</text>
<text class="g" x="478.3" y="2673.3">CSB:  Configuration Steering Board</text>
<text class="g" x="478.3" y="2692.7">CTN:  CEC Tracking Network</text>
<text class="g" x="478.3" y="2712.3">CTT: CEC Technical Training</text>
<text class="g" x="478.3" y="2732.3">DA/ES:  Design Agent/Engineering Services</text>
<text class="g" x="478.3" y="2751.7">DT:  Developmental Test</text>
<text class="g" x="931" y="2427.3">DSSC:  Delta System Software  Configuration</text>
<text class="g" x="931" y="2447.3">DWO:  Digital Warfare Office</text>
<text class="g" x="931" y="2466.7">ERS: Enterprise Radar Suite</text>
<text class="g" x="931" y="2486">EASR - Enterprise Air Surveillance Radar</text>
<text class="g" x="931" y="2505.7">FCLIP: Fire Control Loop Improvement  Project</text>
<text class="g" x="931" y="2525.7">FIRECAPE: Force-Level integrated Fires Real-time Engagement</text>
<text class="g" x="950" y="2544.3">Coordination  and Performance  Estimate</text>
<text class="g" x="931" y="2564.3">FNC: Future  Naval Capability</text>
<text class="g" x="931" y="2584">FOC:  Full Operational Capability</text>
<text class="g" x="931" y="2603.3">FSBR:  Final Software  Build Review</text>
<text class="g" x="931" y="2623.3">FTIIP:  Far Term Interoperability Improvement  Project</text>
<text class="g" x="931" y="2642.3">FY:  Fiscal Year</text>
<text class="g" x="931" y="2662.3">ILA:  Independent  Logistics Assessment</text>
<text class="g" x="931" y="2681.7">INC:  Increment</text>
<text class="g" x="931" y="2701.7">IPR: Internal Program Review</text>
<text class="g" x="931" y="2720.7">LFT: Live Fire Test</text>
<text class="g" x="931" y="2740.7">MIND: Mission Based Networking  for DDS (Data Distribution System)</text>
<text class="g" x="931" y="2759.3">NEEDS: Network  Enabled Electronic Defense System</text>
<text class="g" x="1551.5" y="2424.3">NIFC:  Naval Integrated Fire Control</text>
<text class="g" x="1551.5" y="2444">NIFC-CA: Naval Integrated Fire Control - Counter Air</text>
<text class="g" x="1551.5" y="2463.3">NoGAPSS: Non-GPS Aided PNT (Position, Navigation and</text>
<text class="g" x="1569.4" y="2483.3">Timing) for Surface and Subsurface</text>
<text class="g" x="1551.5" y="2502.3">OT:  Operational Test</text>
<text class="g" x="1551.5" y="2522.3">OY:  Option Year</text>
<text class="g" x="1551.5" y="2541.7">PDR:  Preliminary Design Review</text>
<text class="g" x="1551.5" y="2561">PH:  Phase</text>
<text class="g" x="1551.5" y="2580.7">RFP:  Request For Proposal</text>
<text class="g" x="1551.5" y="2600">SBR: Software  Build Review</text>
<text class="g" x="1551.5" y="2620">SDP-S:  Signal Data Processor - Sierra</text>
<text class="g" x="1551.5" y="2639.3">SFR:  System Functional Review</text>
<text class="g" x="1551.5" y="2659">SRR:  System Requirements  Review</text>
<text class="g" x="1551.5" y="2678.3">SSDS: Ship Self Defense System</text>
<text class="g" x="1551.5" y="2698.3">SS TRX:  Supersonic Track Ex</text>
<text class="g" x="1551.5" y="2717.3">SWBLR:  Software  Baseline Review</text>
<text class="g" x="1551.5" y="2737.3">TEMP:  Test and Evaluation Master Plan</text>
<text class="g" x="1551.5" y="2756.7">TIM:  Technical Interchange Meeting</text>
<text class="g" x="1551.5" y="2776">TRR:  Technical Readiness Review</text>
</g>
<g id="page-frame">
<line x1="0" y1="2" x2="1979" y2="2" stroke="#1010c0" stroke-width="2"/>
<line x1="2" y1="0" x2="2" y2="2806" stroke="#1010c0" stroke-width="2"/>
<line x1="1977.5" y1="0" x2="1977.5" y2="2806" stroke="#1010c0" stroke-width="3"/>
<rect x="0" y="2801" width="467.5" height="4" fill="#1010c0"/>
<rect x="845" y="2801" width="75" height="4" fill="#1010c0"/>
<rect x="1478" y="2801" width="500" height="4" fill="#1010c0"/>
<rect x="0" y="2805" width="467.5" height="3" fill="#a0a0a0"/>
<rect x="845" y="2805" width="75" height="3" fill="#a0a0a0"/>
<rect x="1478" y="2805" width="500" height="3" fill="#a0a0a0"/>
</g>
</svg>
